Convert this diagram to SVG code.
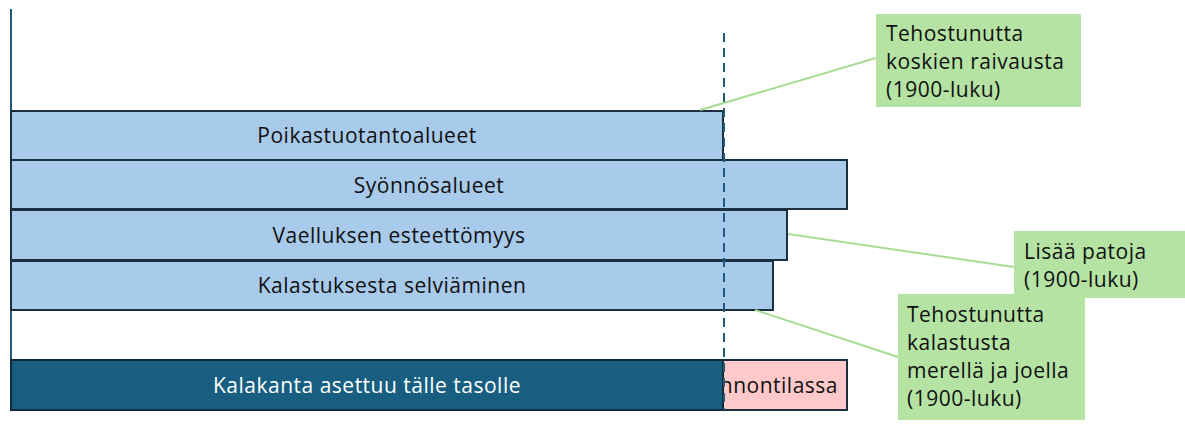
<svg xmlns="http://www.w3.org/2000/svg" width="1185" height="443" viewBox="0 0 1185 443">
<style>
text{font-family:"Open Sans","Liberation Sans",Arial,sans-serif;font-size:21px;letter-spacing:0.5px;fill:#111}
.bar{fill:#a8caeb;stroke:#1a2f3f;stroke-width:2}
.mid{text-anchor:middle}
.note{fill:#b4e3a3}
.conn{stroke:#a8dc94;stroke-width:2;fill:none}
</style>
<rect width="1185" height="443" fill="#fff"/>
<line x1="11" y1="9" x2="11" y2="362" stroke="#1f5a78" stroke-width="2"/>
<g id="poikastuotanto"><rect class="bar" x="11" y="111" width="712" height="49"/><text class="mid" x="367" y="143">Poikastuotantoalueet</text></g>
<g id="syonnos"><rect class="bar" x="11" y="160" width="836" height="49"/><text class="mid" x="429" y="193">Syönnösalueet</text></g>
<g id="vaellus"><rect class="bar" x="11" y="210" width="776" height="50"/><text class="mid" x="399" y="243">Vaelluksen esteettömyys</text></g>
<g id="kalastus"><rect class="bar" x="11" y="261" width="762" height="49"/><text class="mid" x="392" y="293">Kalastuksesta selviäminen</text></g>
<g id="luonnontila"><rect x="11" y="360" width="836" height="50" fill="#ffc9c9" stroke="#1a2f3f" stroke-width="2"/><text x="838" y="393" text-anchor="end">nnontilassa</text></g>
<g id="kalakanta"><rect x="11" y="360" width="712" height="50" fill="#175e80" stroke="#0f2a38" stroke-width="2"/><text class="mid" x="367" y="393" style="fill:#fff">Kalakanta asettuu tälle tasolle</text></g>
<g id="connectors">
<line x1="724" y1="33" x2="724" y2="410" stroke="#1f5a78" stroke-width="2" stroke-dasharray="9,6"/>
<line class="conn" x1="700" y1="110" x2="876" y2="58"/>
<line class="conn" x1="788" y1="234" x2="1014" y2="267"/>
<line class="conn" x1="755" y1="310" x2="898" y2="357"/>
</g>
<g id="note1"><rect class="note" x="876" y="14" width="205" height="93"/><text x="886" y="41">Tehostunutta</text><text x="886" y="69">koskien raivausta</text><text x="886" y="97">(1900-luku)</text></g>
<g id="note2"><rect class="note" x="1014" y="231" width="171" height="67"/><text x="1024" y="259">Lisää patoja</text><text x="1024" y="287">(1900-luku)</text></g>
<g id="note3"><rect class="note" x="898" y="294" width="187" height="126"/><text x="907" y="322">Tehostunutta</text><text x="907" y="350">kalastusta</text><text x="907" y="378">merellä ja joella</text><text x="907" y="406">(1900-luku)</text></g>
</svg>
